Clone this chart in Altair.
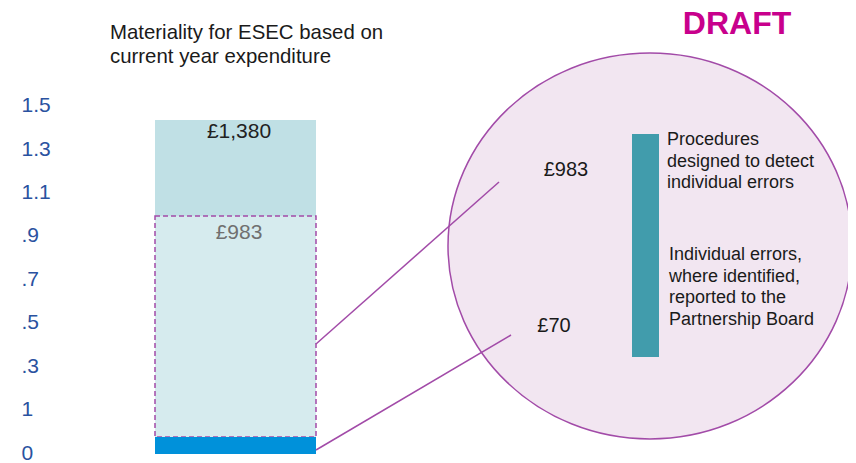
import altair as alt
import pandas as pd

# ---- data -------------------------------------------------------------
segment_names = ["Individual errors", "Procedures", "Materiality"]
segment_start = [0, 70, 983]
segment_end = [70, 983, 1380]

bar_labels = ["£1,380", "£983"]
bar_label_values = [1380, 983]

axis_labels = ["0", "1", ".3", ".5", ".7", ".9", "1.1", "1.3", "1.5"]
axis_positions = [4, 183, 363, 542, 721, 901, 1080, 1259, 1438]

circle_labels = ["£983", "£70"]
title_lines = ["Materiality for ESEC based on", "current year expenditure"]
note_top = ["Procedures", "designed to detect", "individual errors"]
note_bottom = ["Individual errors,", "where identified,", "reported to the", "Partnership Board"]
stamp = "DRAFT"

FONT = "Liberation Sans, Arial, sans-serif"
PURPLE = "#A24BA8"

seg = pd.DataFrame({"segment": segment_names, "start": segment_start, "end": segment_end})

yscale = alt.Scale(domain=[-37.2, 1842.7], nice=False, zero=False)
label_expr = "[" + ",".join("'%s'" % s for s in axis_labels) + "][indexof([" + \
    ",".join(str(v) for v in axis_positions) + "], datum.value)]"
yaxis = alt.Axis(values=axis_positions, labelExpr=label_expr, orient="left", offset=-13,
                 domain=False, ticks=False, tickSize=0, grid=False, title=None,
                 labelAlign="left", labelBaseline="middle", labelPadding=0,
                 labelFontSize=21, labelColor="#2A52A0", labelFont=FONT,
                 labelFlush=False, labelOverlap=False, labelBound=False)

def one(text):
    return pd.DataFrame({"t": [text]})

base = alt.Chart(seg)
bx = dict(x=alt.value(147), x2=alt.value(308))

top_seg = base.transform_filter(alt.datum.segment == "Materiality").mark_rect(
    color="#C0E0E5").encode(y=alt.Y("start:Q", scale=yscale, axis=yaxis), y2="end:Q", **bx)
mid_seg = base.transform_filter(alt.datum.segment == "Procedures").mark_rect(
    fill="#D6EBEE", stroke=PURPLE, strokeDash=[5, 3], strokeWidth=1.5).encode(
    y=alt.Y("start:Q", scale=yscale, axis=yaxis), y2="end:Q", **bx)
low_seg = base.transform_filter(alt.datum.segment == "Individual errors").mark_rect(
    color="#0091DA").encode(y=alt.Y("start:Q", scale=yscale, axis=yaxis), y2="end:Q", **bx)

lab1 = alt.Chart(pd.DataFrame({"t": [bar_labels[0]], "v": [bar_label_values[0]]})).mark_text(
    font=FONT, fontSize=21, color="#222222", baseline="alphabetic", dy=18).encode(
    x=alt.value(231), y=alt.Y("v:Q", scale=yscale, axis=yaxis), text="t:N")
lab2 = alt.Chart(pd.DataFrame({"t": [bar_labels[1]], "v": [bar_label_values[1]]})).mark_text(
    font=FONT, fontSize=21, color="#707070", baseline="alphabetic", dy=23).encode(
    x=alt.value(231), y=alt.Y("v:Q", scale=yscale, axis=yaxis), text="t:N")

# ellipse outline as a custom symbol (unit coordinates, 4 cubic curves)
ELLIPSE = ("M1,0C1,0.5274,0.5523,0.955,0,0.955C-0.5523,0.955,-1,0.5274,-1,0"
           "C-1,-0.5274,-0.5523,-0.955,0,-0.955C0.5523,-0.955,1,-0.5274,1,0Z")
circle = alt.Chart(one("")).mark_point(
    shape=ELLIPSE, filled=True, size=404 * 404, fill="#F2E6F1", stroke=PURPLE,
    strokeWidth=1.5, opacity=1, fillOpacity=1).encode(x=alt.value(642), y=alt.value(238))

rule1 = alt.Chart(one("")).mark_rule(color=PURPLE, strokeWidth=1.5).encode(
    x=alt.value(308), y=alt.value(336), x2=alt.value(491), y2=alt.value(174))
rule2 = alt.Chart(one("")).mark_rule(color=PURPLE, strokeWidth=1.5).encode(
    x=alt.value(308), y=alt.value(442), x2=alt.value(503), y2=alt.value(327))

c983 = alt.Chart(one(circle_labels[0])).mark_text(
    font=FONT, fontSize=20, color="#1a1a1a", baseline="alphabetic").encode(
    x=alt.value(558), y=alt.value(168), text="t:N")
c70 = alt.Chart(one(circle_labels[1])).mark_text(
    font=FONT, fontSize=20, color="#1a1a1a", baseline="alphabetic").encode(
    x=alt.value(546), y=alt.value(324), text="t:N")

teal = alt.Chart(one("")).mark_rect(color="#419CAC").encode(
    x=alt.value(624), x2=alt.value(651), y=alt.value(126), y2=alt.value(349))

n1 = alt.Chart(one("\n".join(note_top))).mark_text(
    font=FONT, fontSize=18, lineHeight=21.7, color="#1a1a1a", align="left",
    baseline="alphabetic", lineBreak="\n").encode(x=alt.value(659), y=alt.value(137), text="t:N")
n2 = alt.Chart(one("\n".join(note_bottom))).mark_text(
    font=FONT, fontSize=18, lineHeight=21.7, color="#1a1a1a", align="left",
    baseline="alphabetic", lineBreak="\n").encode(x=alt.value(661), y=alt.value(252), text="t:N")

title = alt.Chart(one("\n".join(title_lines))).mark_text(
    font=FONT, fontSize=20.4, lineHeight=24, color="#1a1a1a", align="left",
    baseline="alphabetic", lineBreak="\n").encode(x=alt.value(102), y=alt.value(31), text="t:N")

draft = alt.Chart(one(stamp)).mark_text(
    font=FONT, fontSize=32, fontWeight="bold", color="#C8008C", align="center",
    baseline="alphabetic").encode(x=alt.value(729), y=alt.value(25.5), text="t:N")

chart = alt.layer(top_seg, mid_seg, low_seg, lab1, lab2, circle, rule1, rule2,
                  c983, c70, teal, n1, n2, title, draft).properties(
    width=840, height=455, padding=0,
    autosize=alt.AutoSizeParams(type="none"), background="white"
).configure_view(strokeWidth=0)

chart.save("out.html", embed_options={"renderer": "svg", "actions": False})
